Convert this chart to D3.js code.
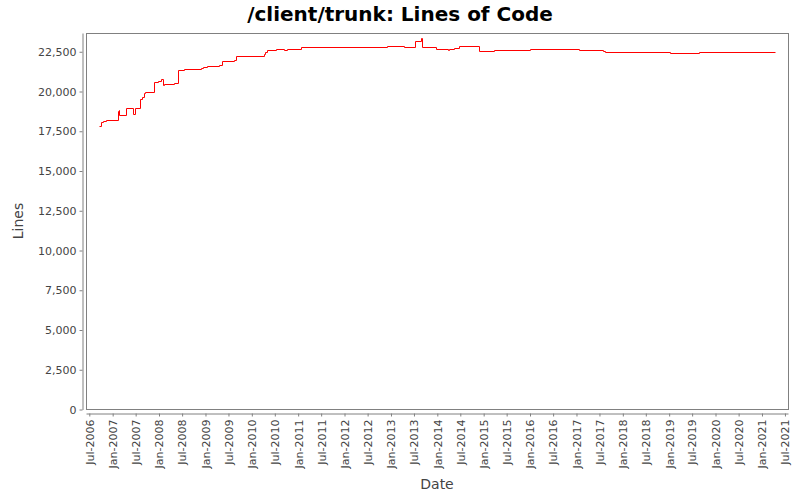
<!DOCTYPE html>
<html>
<head>
<meta charset="utf-8">
<script src="https://cdn.jsdelivr.net/npm/d3@7"></script>
<style>
  html, body { margin: 0; padding: 0; background: #fff; }
  svg { display: block; font-family: 'DejaVu Sans', sans-serif; }
</style>
</head>
<body>
<div id="app"></div>
<script>
// commit dates and line counts
const dates = [
  '2006-09-17', '2006-10-03', '2006-10-17', '2006-11-07', '2007-02-09', '2007-02-18',
  '2007-02-22', '2007-04-18', '2007-06-10', '2007-06-23', '2007-08-06', '2007-08-17',
  '2007-09-02', '2007-09-12', '2007-11-25', '2007-12-26', '2008-01-14', '2008-01-30',
  '2008-02-07', '2008-04-25', '2008-06-01', '2008-07-18', '2008-11-26', '2008-12-14',
  '2009-01-15', '2009-04-20', '2009-05-13', '2009-08-16', '2009-08-29', '2010-04-07',
  '2010-04-15', '2010-04-28', '2010-07-10', '2010-09-11', '2010-10-07', '2011-01-25',
  '2012-12-03', '2013-04-11', '2013-07-09', '2013-08-23', '2013-09-04', '2013-12-24',
  '2014-03-23', '2014-04-05', '2014-05-12', '2014-06-18', '2014-11-23', '2015-03-25',
  '2016-01-03', '2017-01-18', '2017-07-31', '2017-08-16', '2019-01-10', '2019-08-21',
  '2021-04-13'
]
const lines = [
  17836, 18088, 18151, 18239, 18779, 18842,
  18553, 18993, 18616, 18993, 19559, 19659,
  19936, 19999, 20602, 20665, 20816, 20414,
  20477, 20565, 21382, 21444, 21507, 21570,
  21633, 21696, 21903, 22010, 22236, 22387,
  22488, 22638, 22701, 22638, 22701, 22783,
  22846, 22783, 23204, 23393, 22783, 22701,
  22638, 22701, 22764, 22846, 22575, 22638,
  22701, 22638, 22575, 22513, 22450, 22513,
  22513
]
const yTicks = [0, 2500, 5000, 7500, 10000, 12500, 15000, 17500, 20000, 22500]
const xTickMonths = d3.timeMonth.every(6)

const _config = {
  width: 800,
  height: 500,
  plot: { left: 86, top: 33, right: 788, bottom: 409 },
  axisGap: 4,
  frame: '#808080',
  text: '#444444',
}

const svg = d3.select('#app')
  .append('svg')
  .attr('width', _config.width)
  .attr('height', _config.height)

svg.append('rect')
  .attr('width', _config.width)
  .attr('height', _config.height)
  .attr('fill', '#fff')

const parse = d3.timeParse('%Y-%m-%d')
const data = dates.map((d, i) => ({ date: parse(d), value: lines[i] }))

const p = _config.plot
const xScale = d3.scaleTime()
  .domain([parse('2006-06-05'), parse('2021-07-25')])
  .range([p.left, p.right])
const yScale = d3.scaleLinear()
  .domain([0, 23680])
  .range([p.bottom + 0.5, p.top])

// title
svg.append('text')
  .attr('x', 400)
  .attr('y', 21)
  .attr('text-anchor', 'middle')
  .attr('font-size', 20)
  .attr('font-weight', 'bold')
  .attr('fill', '#000')
  .text('/client/trunk: Lines of Code')

// plot frame
svg.append('rect')
  .attr('x', p.left + 0.5)
  .attr('y', p.top + 0.5)
  .attr('width', p.right - p.left)
  .attr('height', p.bottom - p.top)
  .attr('fill', '#fff')
  .attr('stroke', _config.frame)
  .attr('stroke-width', 1)

// y axis, set off 4px from the plot
const yAxis = d3.axisLeft(yScale)
  .tickValues(yTicks)
  .tickFormat(d3.format(','))
  .tickSizeInner(3)
  .tickSizeOuter(0)
  .tickPadding(3)
const gy = svg.append('g')
  .attr('transform', `translate(${p.left - _config.axisGap + 0.5}, 0)`)
  .call(yAxis)
gy.select('.domain').attr('stroke', _config.frame)
gy.selectAll('.tick line').attr('stroke', _config.frame)
gy.selectAll('.tick text')
  .attr('fill', _config.text)
  .attr('font-size', 11)
  .attr('font-family', 'DejaVu Sans')

// x axis
const xAxis = d3.axisBottom(xScale)
  .ticks(xTickMonths)
  .tickFormat(d3.timeFormat('%b-%Y'))
  .tickSizeInner(3)
  .tickSizeOuter(0)
const gx = svg.append('g')
  .attr('transform', `translate(0, ${p.bottom + _config.axisGap + 0.5})`)
  .call(xAxis)
gx.select('.domain').attr('stroke', _config.frame)
gx.selectAll('.tick line').attr('stroke', _config.frame)
gx.selectAll('.tick text')
  .attr('fill', _config.text)
  .attr('font-size', 11)
  .attr('font-family', 'DejaVu Sans')
  .attr('text-anchor', 'end')
  .attr('dy', '0.35em')
  .attr('transform', 'translate(0, 6) rotate(-90)')
  .attr('x', 0)
  .attr('y', 0)

// axis labels
svg.append('text')
  .attr('transform', `translate(23, ${(p.top + p.bottom) / 2}) rotate(-90)`)
  .attr('text-anchor', 'middle')
  .attr('font-size', 14)
  .attr('fill', _config.text)
  .text('Lines')
svg.append('text')
  .attr('x', (p.left + p.right) / 2)
  .attr('y', 489)
  .attr('text-anchor', 'middle')
  .attr('font-size', 14)
  .attr('fill', _config.text)
  .text('Date')

// step line, snapped to pixel centres so it stays pure red
const line = d3.line()
  .x(d => Math.round(xScale(d.date)) + 0.5)
  .y(d => Math.round(yScale(d.value)) + 0.5)
  .curve(d3.curveStepAfter)
svg.append('path')
  .datum(data)
  .attr('fill', 'none')
  .attr('stroke', '#ff0000')
  .attr('stroke-width', 1)
  .attr('d', line)
</script>
</body>
</html>
